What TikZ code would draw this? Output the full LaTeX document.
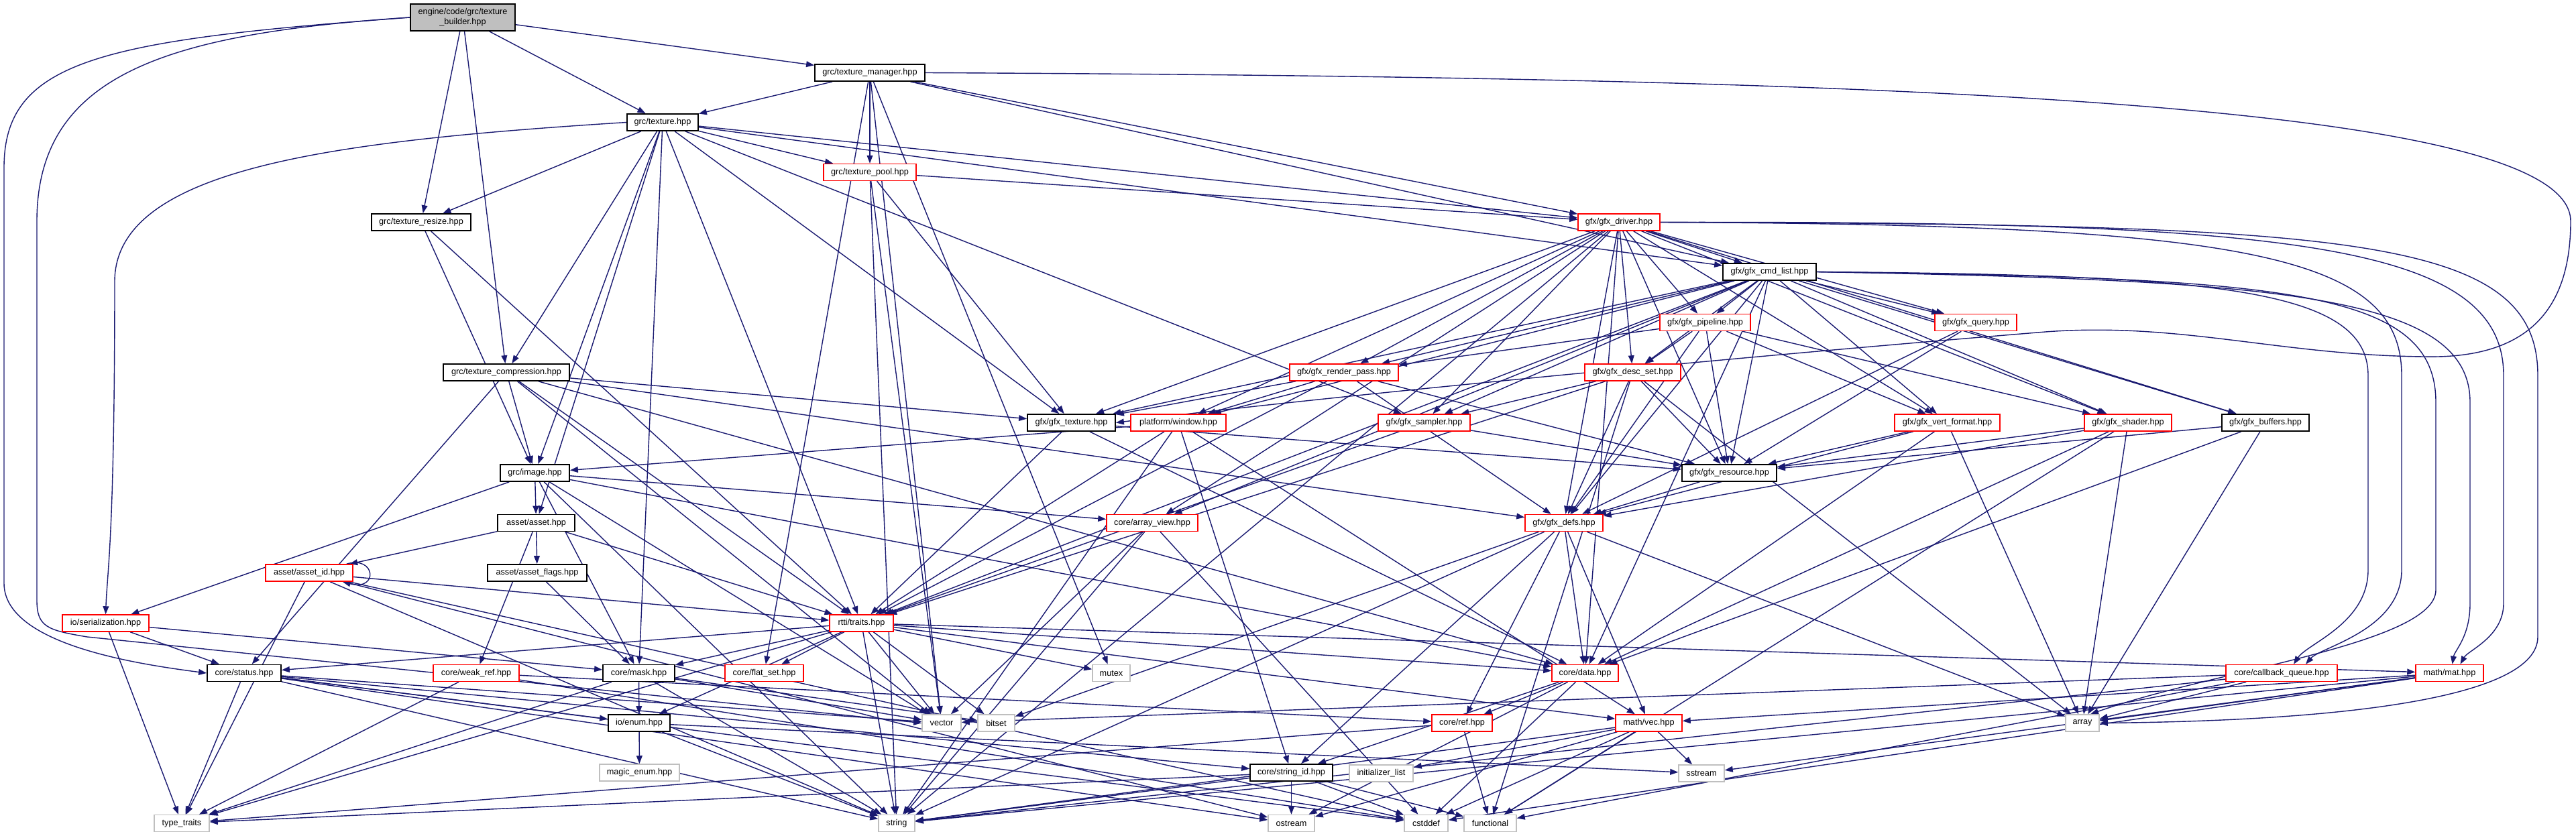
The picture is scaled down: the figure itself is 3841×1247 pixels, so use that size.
\documentclass[tikz,border=0pt]{standalone}
\usepackage{fontspec}
\setmainfont{Liberation Sans}
\usetikzlibrary{arrows.meta,backgrounds}
\definecolor{mb}{HTML}{191970}
\definecolor{gb}{HTML}{BFBFBF}
\newcommand\nd[6]{\node[#1,minimum width=#5pt] (#2) at (#3,#4) {#6};}
\begin{document}
\begin{tikzpicture}[x=0.5pt,y=-0.5pt,
 box/.style={font=\fontsize{6.35}{7.5}\selectfont, inner sep=0pt, minimum height=12.5pt, align=center, fill=white},
 bk/.style={box, draw=black, line width=0.9pt},
 rd/.style={box, draw=red, line width=0.75pt},
 gy/.style={box, draw=gb, line width=0.75pt},
 e/.style={draw=mb, line width=0.7pt, -{Triangle[length=6pt,width=4.4pt]}, line join=round}]
\useasboundingbox (0,0) rectangle (3841,1247);
% nodes
\node[bk, fill=gb, minimum width=78pt, minimum height=20pt] (tb) at (690,26) {engine/code/grc/texture\\\_builder.hpp};
\nd{bk}{tm}{1297}{108.5}{82}{grc/texture\_manager.hpp}
\nd{bk}{tx}{988}{182.5}{53}{grc/texture.hpp}
\nd{rd}{tp}{1297}{257}{69}{grc/texture\_pool.hpp}
\nd{bk}{tr}{628}{331.5}{74}{grc/texture\_resize.hpp}
\nd{rd}{drv}{2414}{331.5}{61}{gfx/gfx\_driver.hpp}
\nd{bk}{cmd}{2638.5}{405.5}{69.5}{gfx/gfx\_cmd\_list.hpp}
\nd{rd}{pipe}{2542.5}{481}{67.5}{gfx/gfx\_pipeline.hpp}
\nd{rd}{query}{2946}{481}{61}{gfx/gfx\_query.hpp}
\nd{bk}{tc}{755}{555.5}{94}{grc/texture\_compression.hpp}
\nd{rd}{rp}{2004}{555.5}{81}{gfx/gfx\_render\_pass.hpp}
\nd{rd}{ds}{2434.5}{555.5}{71.5}{gfx/gfx\_desc\_set.hpp}
\nd{bk}{gtex}{1597.5}{630.5}{65.5}{gfx/gfx\_texture.hpp}
\nd{rd}{win}{1757}{630.5}{71}{platform/window.hpp}
\nd{rd}{samp}{2123.5}{630.5}{68.5}{gfx/gfx\_sampler.hpp}
\nd{rd}{vf}{2903.5}{630.5}{78.5}{gfx/gfx\_vert\_format.hpp}
\nd{rd}{sh}{3173}{630.5}{65}{gfx/gfx\_shader.hpp}
\nd{bk}{buf}{3378}{630.5}{65}{gfx/gfx\_buffers.hpp}
\nd{bk}{img}{797.5}{705.5}{51.5}{grc/image.hpp}
\nd{bk}{res}{2578.5}{705.5}{70.5}{gfx/gfx\_resource.hpp}
\nd{bk}{asset}{799.5}{780}{57.5}{asset/asset.hpp}
\nd{rd}{av}{1718}{780}{68}{core/array\_view.hpp}
\nd{rd}{defs}{2332}{780}{58}{gfx/gfx\_defs.hpp}
\nd{rd}{aid}{461}{854.5}{65}{asset/asset\_id.hpp}
\nd{bk}{aflags}{801}{854.5}{74}{asset/asset\_flags.hpp}
\nd{rd}{ser}{157.5}{929.5}{64.5}{io/serialization.hpp}
\nd{rd}{traits}{1284.5}{929.5}{47.5}{rtti/traits.hpp}
\nd{bk}{status}{364}{1004}{55}{core/status.hpp}
\nd{rd}{wref}{710}{1004}{64}{core/weak\_ref.hpp}
\nd{bk}{mask}{952.5}{1004}{53.5}{core/mask.hpp}
\nd{rd}{fset}{1139.5}{1004}{58.5}{core/flat\_set.hpp}
\nd{gy}{mutex}{1657}{1004}{28}{mutex}
\nd{rd}{data}{2363.5}{1004}{49.5}{core/data.hpp}
\nd{rd}{cbq}{3402}{1004}{83}{core/callback\_queue.hpp}
\nd{rd}{mat}{3652.5}{1004}{50.5}{math/mat.hpp}
\nd{bk}{enum}{953}{1078.5}{46}{io/enum.hpp}
\nd{gy}{vector}{1404}{1078.5}{29}{vector}
\nd{gy}{bitset}{1485.5}{1078.5}{27.5}{bitset}
\nd{rd}{ref}{2180}{1078.5}{45}{core/ref.hpp}
\nd{rd}{vec}{2458.5}{1078.5}{49.5}{math/vec.hpp}
\nd{gy}{array}{3105}{1078.5}{25}{array}
\nd{gy}{magic}{953.5}{1152.5}{59.5}{magic\_enum.hpp}
\nd{bk}{sid}{1925.5}{1152.5}{61.5}{core/string\_id.hpp}
\nd{gy}{il}{2059.5}{1153.5}{47.5}{initializer\_list}
\nd{gy}{sstream}{2537}{1153.5}{34}{sstream}
\nd{gy}{tt}{271}{1228}{41}{type\_traits}
\nd{gy}{string}{1337}{1228}{27}{string}
\nd{gy}{ostream}{1925.5}{1228}{34.5}{ostream}
\nd{gy}{cstddef}{2126.5}{1228}{32.5}{cstddef}
\nd{gy}{functional}{2222}{1228}{39}{functional}
\begin{pgfonlayer}{background}
\foreach \a/\b in {tb/tm, tb/tx, tb/tr, tb/tc,
 tm/tx, tm/tp, tm/drv, tm/cmd, tm/fset, tm/vector, tm/mutex,
 tx/tp, tx/tr, tx/tc, tx/img, tx/asset, tx/mask, tx/gtex, tx/traits, tx/samp, tx/drv, tx/cmd,
 tp/drv, tp/gtex, tp/vector, tp/string,
 tr/img, tr/traits,
 tc/status, tc/img, tc/traits, tc/defs, tc/gtex, tc/data, tc/vector,
 img/ser, img/asset, img/av, img/data, img/string, img/vector, img/mask,
 asset/aid, asset/aflags, asset/wref, asset/traits,
 aid/tt, aid/string, aid/ostream, aid/cstddef, aid/traits,
 aflags/mask,
 ser/tt, ser/status, ser/mask,
 status/tt, status/enum, status/sid, status/string, status/ostream, status/cstddef, status/vector,
 wref/tt, wref/ref, wref/cstddef,
 mask/enum, mask/vector, mask/bitset, mask/tt, mask/string,
 enum/magic, enum/string, enum/sstream,
 traits/status, traits/mask, traits/fset, traits/vector, traits/bitset, traits/string, traits/mutex, traits/enum, traits/data, traits/vec, traits/mat, traits/tt,
 drv/cmd, drv/pipe, drv/query, drv/rp, drv/ds, drv/samp, drv/gtex, drv/win, drv/res, drv/defs, drv/vf, drv/sh, drv/buf, drv/av, drv/data, drv/string,
 cmd/pipe, cmd/query, cmd/rp, cmd/ds, cmd/samp, cmd/gtex, cmd/win, cmd/res, cmd/defs, cmd/vf, cmd/sh, cmd/buf, cmd/av, cmd/traits, cmd/data,
 pipe/rp, pipe/ds, pipe/res, pipe/defs, pipe/vf, pipe/sh,
 query/res, query/defs,
 rp/gtex, rp/win, rp/res, rp/defs, rp/traits,
 ds/samp, ds/res, ds/defs, ds/array, ds/traits, ds/functional,
 samp/res, samp/traits,
 gtex/traits, gtex/res, gtex/data,
 win/img, win/traits, win/sid, win/vec, win/string,
 res/defs,
 vf/res, vf/defs, vf/array, vf/data,
 sh/res, sh/defs, sh/array, sh/functional, sh/data,
 buf/res, buf/data, buf/array,
 defs/data, defs/ref, defs/vec, defs/sid, defs/bitset, defs/array, defs/string,
 av/vector, av/cstddef, av/string,
 data/ref, data/ostream, data/cstddef, data/sid,
 ref/functional, ref/tt,
 vec/il, vec/sstream, vec/cstddef, vec/functional, vec/string, vec/ostream,
 sid/tt, sid/string, sid/ostream, sid/cstddef, sid/functional,
 mat/vec, mat/array, mat/sstream, mat/string, mat/cstddef,
 cbq/vector, cbq/functional, cbq/string, cbq/array}
 \draw[e] (\a) -- (\b);
% custom long routes
\draw[e] (tb.west) .. controls (150,60) and (6,90) .. (6,250) -- (6,870) .. controls (6,960) and (200,990) .. (status.west);
\draw[e] (tb.west) .. controls (250,50) and (55,110) .. (55,330) -- (55,895) .. controls (55,935) and (70,940) .. (130,950) -- (vector.west);
\draw[e] (tm.east) .. controls (2800,115) and (3833,150) .. (3833,330) .. controls (3833,480) and (3750,535) .. (3615,532) .. controls (3400,530) and (3250,480) .. (3050,495) .. controls (2500,540) and (1900,600) .. (gtex.east);
\draw[e] (tx.west) .. controls (500,210) and (171,250) .. (171,420) .. controls (171,800) and (160,850) .. (ser.north);
\draw[e] (cmd.east) .. controls (3300,410) and (3531,430) .. (3531,560) -- (3531,850) .. controls (3531,930) and (3440,960) .. ([xshift=9pt]cbq.north);
\draw[e] (drv.east) .. controls (3350,335) and (3581,380) .. (3581,560) -- (3581,850) .. controls (3581,940) and (3460,965) .. ([xshift=18pt]cbq.north);
\draw[e] (cmd.east) .. controls (3400,418) and (3683,440) .. (3683,600) -- (3683,900) .. controls (3683,950) and (3660,970) .. ([xshift=2pt]mat.north);
\draw[e] (drv.east) .. controls (3400,330) and (3733,360) .. (3733,560) -- (3733,900) .. controls (3733,950) and (3680,970) .. ([xshift=8pt]mat.north);
\draw[e] (drv.east) .. controls (3500,335) and (3784,350) .. (3784,560) -- (3784,950) .. controls (3784,1040) and (3500,1075) .. (array.east);
\draw[e] (cmd.east) .. controls (3400,415) and (3632,430) .. (3632,600) -- (3632,880) .. controls (3632,960) and (3300,1000) .. ([xshift=6pt]array.north);
\draw[e] ([xshift=-5pt]aid.north east) .. controls (560,828) and (565,882) .. ([xshift=-8pt]aid.south east);
\end{pgfonlayer}
\end{tikzpicture}
\end{document}
